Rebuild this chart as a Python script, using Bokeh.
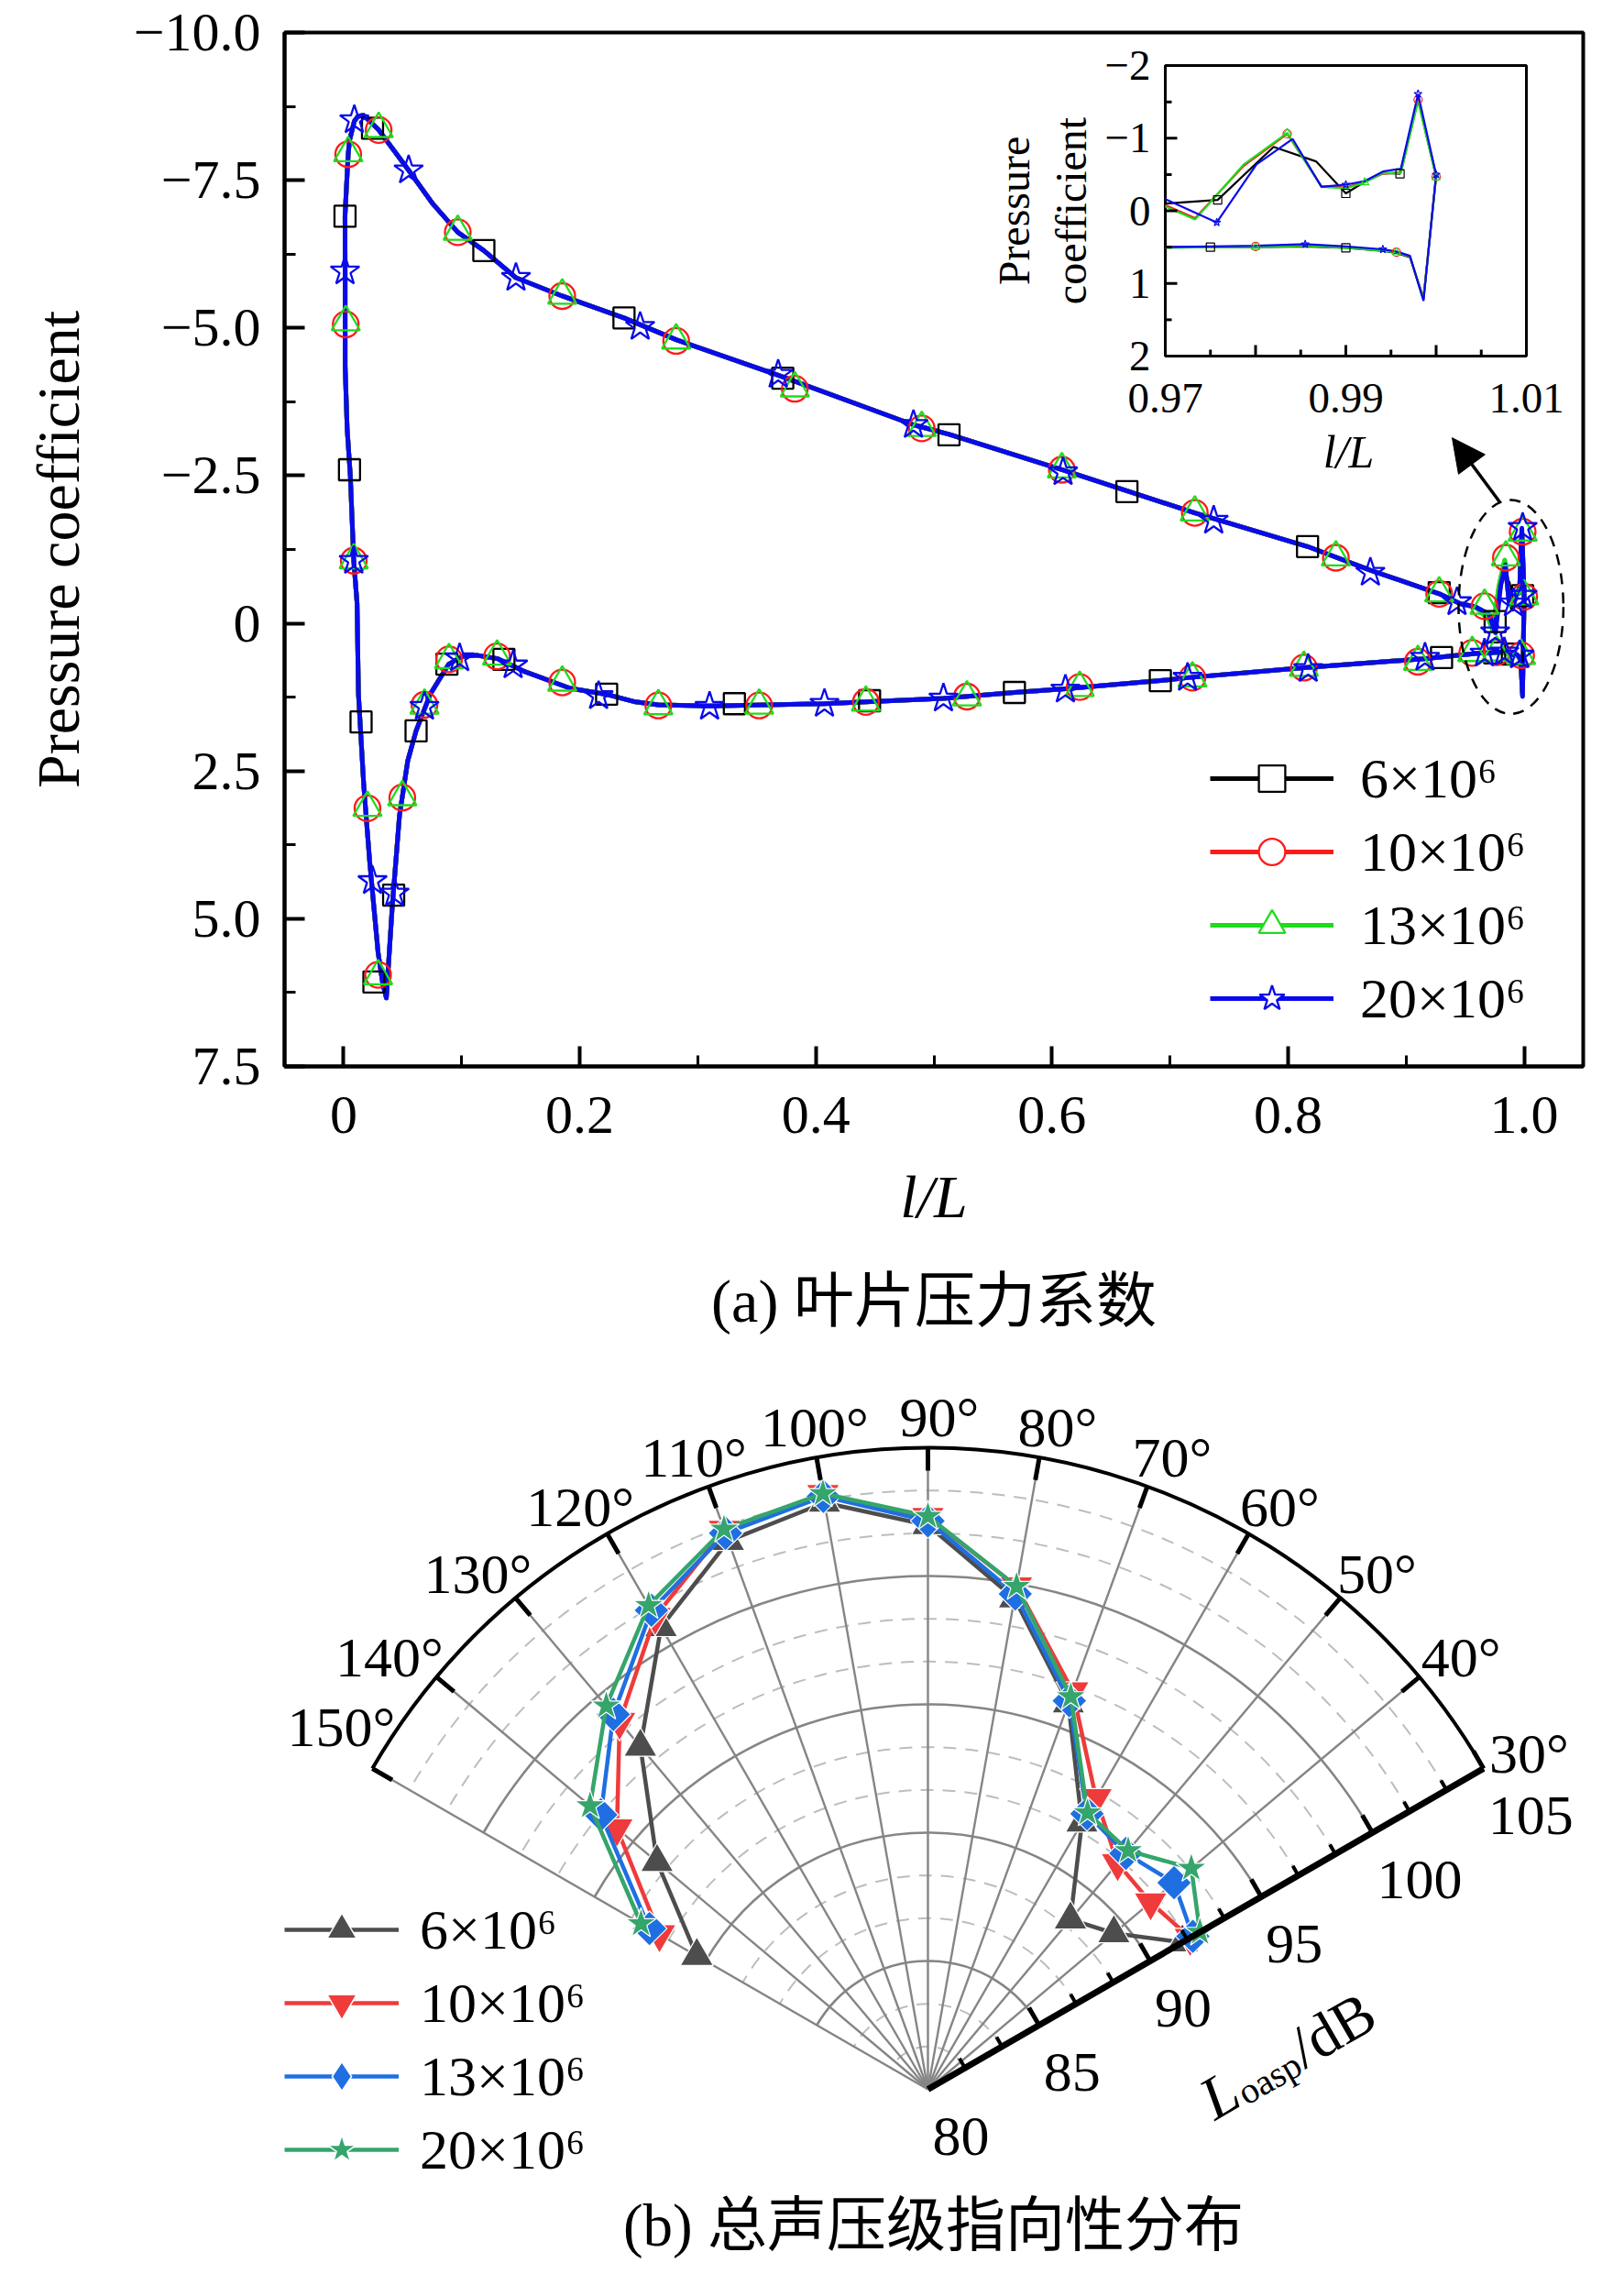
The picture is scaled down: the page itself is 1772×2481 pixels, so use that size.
import math
from bokeh.plotting import figure
from bokeh.models import (Range1d, FixedTicker, Legend, LegendItem, Arrow, NormalHead, Title)
from bokeh.layouts import column
from bokeh.embed import file_html
from bokeh.resources import INLINE
from bokeh.core.properties import value

SERIF = "Liberation Serif"
MIXED = "'Liberation Serif', 'Noto Sans CJK SC'"
NAN = float("nan")

# ====================== (a) blade pressure coefficient ======================
series_labels = ["6×10⁶", "10×10⁶", "13×10⁶", "20×10⁶"]

x_ticks = [0, 0.2, 0.4, 0.6, 0.8, 1.0]
x_tick_labels = ["0", "0.2", "0.4", "0.6", "0.8", "1.0"]
x_minor = [0.1, 0.3, 0.5, 0.7, 0.9]
y_ticks = [-10, -7.5, -5, -2.5, 0, 2.5, 5, 7.5]
y_tick_labels = ["−10.0", "−7.5", "−5.0", "−2.5", "0", "2.5", "5.0", "7.5"]
y_minor = [-8.75, -6.25, -3.75, -1.25, 1.25, 3.75, 6.25]

# common curve (the four Reynolds numbers practically coincide)
suction_x = [0.0168, 0.0294, 0.0551, 0.0756, 0.0967, 0.1188, 0.1460, 0.1852, 0.2375, 0.2817,
             0.3681, 0.4827, 0.5129, 0.6084, 0.6637, 0.7210, 0.8165, 0.8697, 0.9280, 0.9461, 0.9586]
suction_cp = [-8.60, -8.36, -7.67, -7.10, -6.62, -6.31, -5.85, -5.54, -5.17, -4.80,
              -4.20, -3.36, -3.20, -2.60, -2.24, -1.87, -1.30, -0.90, -0.50, -0.33, -0.28]
le_x = [0.0168, 0.0121, 0.0091, 0.0050, 0.0039, 0.0022, 0.0012, 0.0013, 0.0013, 0.0030,
        0.0057, 0.0086, 0.0114, 0.0126, 0.0171, 0.0221, 0.0292, 0.0332, 0.0362, 0.0412,
        0.0473, 0.0543, 0.0614, 0.0734, 0.0891, 0.1005, 0.1126, 0.1307, 0.1538, 0.1920,
        0.2222, 0.2473, 0.2666]
le_cp = [-8.60, -8.58, -8.50, -8.17, -7.94, -7.30, -6.89, -6.00, -4.35, -3.30,
         -2.50, -1.06, -0.34, 1.20, 2.75, 4.03, 5.57, 6.10, 6.34, 4.80,
         3.26, 2.33, 1.82, 1.20, 0.69, 0.56, 0.54, 0.60, 0.82, 1.10,
         1.20, 1.33, 1.38]
pressure_x = [0.3098, 0.4073, 0.5079, 0.5682, 0.6114, 0.6918, 0.7149, 0.8134, 0.9150, 0.9552, 0.9650]
pressure_cp = [1.40, 1.36, 1.27, 1.17, 1.11, 0.97, 0.92, 0.75, 0.60, 0.52, 0.50]

# trailing-edge detail (inset) per series
te_up_x_6 = [0.9700, 0.9758, 0.9820, 0.9867, 0.9900, 0.9921, 0.9941, 0.9960, 0.9980, 1.0000]
te_up_cp_6 = [-0.10, -0.15, -0.88, -0.68, -0.24, -0.40, -0.52, -0.51, -1.55, -0.48]
te_up_x_10 = [0.9700, 0.9733, 0.9787, 0.9835, 0.9873, 0.9900, 0.9921, 0.9941, 0.9961, 0.9980, 1.0000]
te_up_cp_10 = [-0.08, 0.10, -0.62, -1.06, -0.34, -0.32, -0.40, -0.51, -0.53, -1.53, -0.47]
te_up_x_13 = [0.9700, 0.9733, 0.9787, 0.9835, 0.9873, 0.9900, 0.9921, 0.9941, 0.9961, 0.9980, 1.0000]
te_up_cp_13 = [-0.06, 0.12, -0.64, -1.07, -0.33, -0.31, -0.39, -0.52, -0.52, -1.51, -0.46]
te_up_x_20 = [0.9700, 0.9757, 0.9801, 0.9841, 0.9873, 0.9900, 0.9921, 0.9941, 0.9961, 0.9980, 1.0000]
te_up_cp_20 = [-0.16, 0.16, -0.64, -0.99, -0.33, -0.36, -0.41, -0.54, -0.58, -1.61, -0.50]
te_lo_x = [0.9700, 0.9750, 0.9800, 0.9855, 0.9900, 0.9941, 0.9956, 0.9971, 0.9986]
te_lo_cp_6 = [0.50, 0.50, 0.50, 0.49, 0.51, 0.55, 0.58, 0.64, 1.20]
te_lo_cp_10 = [0.50, 0.50, 0.49, 0.48, 0.50, 0.54, 0.57, 0.63, 1.22]
te_lo_cp_13 = [0.51, 0.50, 0.50, 0.48, 0.51, 0.55, 0.57, 0.63, 1.22]
te_lo_cp_20 = [0.50, 0.49, 0.48, 0.46, 0.49, 0.53, 0.56, 0.62, 1.24]
# which inset points carry a symbol
inset_mk_up_6, inset_mk_lo_6 = [1, 4, 7], [1, 4]
inset_mk_up_10, inset_mk_lo_10 = [3, 9, 10], [2, 6]
inset_mk_up_13, inset_mk_lo_13 = [3, 6, 10], [2, 6]
inset_mk_up_20, inset_mk_lo_20 = [1, 5, 9, 10], [3, 5]

# symbols in the main chart
mk_x_6 = [0.0012, 0.0050, 0.0245, 0.1188, 0.2375, 0.3720, 0.5128, 0.6635, 0.8165, 0.9280, 0.9754, 0.9987,
          0.0148, 0.0257, 0.0424, 0.0614, 0.0875, 0.1358, 0.2228, 0.3310, 0.4455, 0.5682, 0.6918, 0.9300,
          0.9750, 0.9900]
mk_cp_6 = [-6.89, -2.60, -8.38, -6.31, -5.17, -4.15, -3.19, -2.23, -1.30, -0.52, -0.03, -0.47,
           1.67, 6.07, 4.60, 1.82, 0.69, 0.61, 1.20, 1.36, 1.31, 1.17, 0.97, 0.58,
           0.50, 0.52]
mk_x_10 = [0.0018, 0.0039, 0.0297, 0.0967, 0.1852, 0.2817, 0.3822, 0.4897, 0.6084, 0.7210, 0.8405, 0.9280,
           0.9664, 0.9845, 0.9987, 1.0000, 0.0086, 0.0202, 0.0292, 0.0497, 0.0685, 0.0893, 0.1300, 0.1852,
           0.2666, 0.3520, 0.4424, 0.5280, 0.6235, 0.7190, 0.8134, 0.9100, 0.9560, 0.9767, 0.9974]
mk_cp_10 = [-5.06, -7.94, -8.35, -6.62, -5.54, -4.78, -3.97, -3.30, -2.60, -1.87, -1.11, -0.50,
            -0.29, -1.11, -1.55, -0.45, -1.06, 3.13, 5.95, 2.95, 1.38, 0.61, 0.56, 1.00,
            1.39, 1.39, 1.33, 1.24, 1.08, 0.92, 0.75, 0.65, 0.50, 0.49, 0.54]
mk_x_13 = [0.0018, 0.0039, 0.0297, 0.0967, 0.1852, 0.2817, 0.3822, 0.4897, 0.6084, 0.7210, 0.8405, 0.9280,
           0.9664, 0.9845, 0.9987, 1.0000, 0.0086, 0.0202, 0.0292, 0.0497, 0.0685, 0.0893, 0.1300, 0.1852,
           0.2666, 0.3520, 0.4424, 0.5280, 0.6235, 0.7190, 0.8134, 0.9100, 0.9560, 0.9767, 0.9974]
mk_cp_13 = [-5.10, -7.96, -8.37, -6.63, -5.55, -4.79, -3.98, -3.31, -2.61, -1.88, -1.12, -0.51,
            -0.30, -1.12, -1.54, -0.46, -1.07, 3.12, 5.97, 2.94, 1.39, 0.62, 0.56, 1.00,
            1.40, 1.39, 1.34, 1.25, 1.09, 0.93, 0.75, 0.65, 0.50, 0.49, 0.55]
mk_x_20 = [0.0012, 0.0091, 0.0551, 0.1460, 0.2512, 0.3681, 0.4827, 0.6094, 0.7370, 0.8697, 0.9431, 0.9909,
           0.9987, 0.9987, 0.0086, 0.0245, 0.0432, 0.0685, 0.0983, 0.1436, 0.2160, 0.3100, 0.4073, 0.5081,
           0.6114, 0.7149, 0.8170, 0.9160, 0.9664, 0.9754, 0.9832, 0.9961]
mk_cp_20 = [-5.96, -8.52, -7.67, -5.85, -5.02, -4.21, -3.36, -2.56, -1.74, -0.86, -0.36, -0.34,
            -1.62, -0.47, -1.06, 4.36, 4.57, 1.41, 0.59, 0.71, 1.23, 1.41, 1.36, 1.27,
            1.12, 0.92, 0.77, 0.58, 0.51, 0.15, 0.49, 0.54]

inset_x_tick_pos = [0.97, 0.99, 1.01]
inset_x_tick_labels = ["0.97", "0.99", "1.01"]
inset_x_major = [0.98, 0.99, 1.00]
inset_x_minor = [0.975, 0.985, 0.995, 1.005]
inset_y_tick_pos = [-2, -1, 0, 1, 2]
inset_y_tick_labels = ["−2", "−1", "0", "1", "2"]
inset_y_major = [-1, 0, 1]
inset_y_minor = [-1.5, -0.5, 0.5, 1.5]

# ====================== (b) OASPL directivity ======================
polar_angles = [30, 40, 50, 60, 70, 80, 90, 100, 110, 120, 130, 140, 150]
oaspl_6 = [91.45, 89.46, 88.64, 92.00, 96.00, 99.42, 101.98, 103.21, 102.74, 100.80, 97.43, 93.78, 90.40]
oaspl_10 = [91.80, 91.33, 91.50, 93.10, 96.50, 99.90, 102.30, 103.55, 103.20, 101.26, 98.69, 95.82, 92.08]
oaspl_13 = [91.92, 92.52, 92.00, 92.40, 96.11, 99.60, 102.15, 103.46, 103.06, 101.55, 99.07, 96.64, 92.53]
oaspl_20 = [92.24, 93.40, 92.14, 92.44, 96.28, 99.90, 102.33, 103.57, 103.23, 101.77, 99.50, 97.19, 92.91]
r_ticks = [80, 85, 90, 95, 100, 105]
r_tick_labels = ["80", "85", "90", "95", "100", "105"]
angle_ticks = [30, 40, 50, 60, 70, 80, 90, 100, 110, 120, 130, 140, 150]
angle_tick_labels = ["30°", "40°", "50°", "60°", "70°", "80°", "90°", "100°", "110°", "120°",
                     "130°", "140°", "150°"]

# ====================== layout constants (screen px of reference) ======================
PAGE_W = 1764
FRAME_L, FRAME_T, FRAME_R, FRAME_B = 318, 43, 1735, 1171
TOP_H = 1495
INSET_L, INSET_T, INSET_R, INSET_B = 1279, 79, 1673, 396
BORDER_L = FRAME_L - 8
FW, FH = FRAME_R - FRAME_L, FRAME_B - FRAME_T
BORDER_R = PAGE_W - BORDER_L - FW

# ---------------------------------------------------------------------------
p = figure(frame_width=FW, frame_height=FH,
           x_range=Range1d(-0.05, 1.05), y_range=Range1d(7.5, -10),
           min_border_left=BORDER_L, min_border_top=FRAME_T - 8,
           min_border_right=BORDER_R,
           min_border_bottom=TOP_H - (FRAME_T - 8) - FH,
           output_backend="svg", toolbar_location=None)
p.xgrid.visible = False
p.ygrid.visible = False
p.outline_line_color = "black"
p.outline_line_width = 4
p.background_fill_color = "white"
p.border_fill_color = "white"

p.xaxis.ticker = FixedTicker(ticks=x_ticks, minor_ticks=x_minor)
p.xaxis.major_label_overrides = {t: l for t, l in zip(x_ticks, x_tick_labels)}
p.yaxis.ticker = FixedTicker(ticks=y_ticks, minor_ticks=y_minor)
p.yaxis.major_label_overrides = {t: l for t, l in zip(y_ticks, y_tick_labels)}
for ax in (p.xaxis[0], p.yaxis[0]):
    ax.axis_line_width = 4
    ax.major_tick_line_width = 4
    ax.minor_tick_line_width = 3
    ax.major_tick_in = 22
    ax.major_tick_out = 0
    ax.minor_tick_in = 12
    ax.minor_tick_out = 0
    ax.major_label_text_font = SERIF
    ax.major_label_text_font_size = "60px"
    ax.major_label_text_color = "black"
    ax.axis_label_text_font = SERIF
    ax.axis_label_text_font_size = "66px"
    ax.axis_label_text_color = "black"
p.xaxis.axis_label = "l/L"
p.xaxis.axis_label_text_font_style = "italic"
p.xaxis.major_label_standoff = 33
p.xaxis.axis_label_standoff = 30
p.yaxis.axis_label = "Pressure coefficient"
p.yaxis.axis_label_text_font_style = "normal"
p.yaxis.major_label_standoff = 26
p.yaxis.axis_label_standoff = 43

colors_a = ["#000000", "#ff1a1a", "#1edc1e", "#0a0aeb"]
markers_a = ["square", "circle", "triangle", "star"]
sizes_a = [23, 28, 31, 33]
te_up_x_all = [te_up_x_6, te_up_x_10, te_up_x_13, te_up_x_20]
te_up_cp_all = [te_up_cp_6, te_up_cp_10, te_up_cp_13, te_up_cp_20]
te_lo_cp_all = [te_lo_cp_6, te_lo_cp_10, te_lo_cp_13, te_lo_cp_20]
mk_x_all = [mk_x_6, mk_x_10, mk_x_13, mk_x_20]
mk_cp_all = [mk_cp_6, mk_cp_10, mk_cp_13, mk_cp_20]
inset_mk_up_all = [inset_mk_up_6, inset_mk_up_10, inset_mk_up_13, inset_mk_up_20]
inset_mk_lo_all = [inset_mk_lo_6, inset_mk_lo_10, inset_mk_lo_13, inset_mk_lo_20]

legend_items_a = []
line_rs = []
for i in range(4):
    ux, uc, lc = te_up_x_all[i], te_up_cp_all[i], te_lo_cp_all[i]
    xs = ux[::-1] + suction_x[::-1] + le_x[1:] + pressure_x + te_lo_x + [ux[-1]]
    ys = uc[::-1] + suction_cp[::-1] + le_cp[1:] + pressure_cp + lc + [uc[-1]]
    lr = p.line(xs, ys, line_color=colors_a[i], line_width=5, line_join="round")
    line_rs.append(lr)
for i in range(4):
    p.scatter(mk_x_all[i], mk_cp_all[i], marker=markers_a[i], size=sizes_a[i],
              fill_color=None, line_color=colors_a[i], line_width=2.3)
    # legend proxy (white-filled symbol breaking the line, as in the original key)
    proxy = p.scatter([NAN], [NAN], marker=markers_a[i], size=sizes_a[i],
                      fill_color="white", line_color=colors_a[i], line_width=2.3)
    legend_items_a.append(LegendItem(label=series_labels[i], renderers=[line_rs[i], proxy]))

# dashed ellipse around trailing edge & arrow to inset
p.ellipse(x=[0.9888], y=[-0.277], width=[0.0888], height=[3.62], fill_color=None,
          line_color="black", line_width=2.5, line_dash="12 9")
p.add_layout(Arrow(end=NormalHead(size=36, fill_color="black", line_color="black"),
                   x_start=0.979, y_start=-2.06, x_end=0.939, y_end=-3.14,
                   line_width=3.5, line_color="black"))

# ---------- inset (own ranges mapped into the inset box) ----------
ixpp = 0.04 / (INSET_R - INSET_L)
iypp = 4.0 / (INSET_B - INSET_T)
p.extra_x_ranges = {"ix": Range1d(0.97 - (INSET_L - FRAME_L) * ixpp, 1.01 + (FRAME_R - INSET_R) * ixpp)}
p.extra_y_ranges = {"iy": Range1d(2 + (FRAME_B - INSET_B) * iypp, -2 - (INSET_T - FRAME_T) * iypp)}
IN = dict(x_range_name="ix", y_range_name="iy")
p.quad(left=[0.97], right=[1.01], top=[-2], bottom=[2], fill_color="white",
       line_color="black", line_width=3, **IN)
for i in range(4):
    ux, uc, lc = te_up_x_all[i], te_up_cp_all[i], te_lo_cp_all[i]
    p.line(ux, uc, line_color=colors_a[i], line_width=2.2, **IN)
    p.line(te_lo_x + [ux[-1]], lc + [uc[-1]], line_color=colors_a[i], line_width=2.2, **IN)
for i in range(4):
    ux, uc, lc = te_up_x_all[i], te_up_cp_all[i], te_lo_cp_all[i]
    mx = [ux[k] for k in inset_mk_up_all[i]] + [te_lo_x[k] for k in inset_mk_lo_all[i]]
    my = [uc[k] for k in inset_mk_up_all[i]] + [lc[k] for k in inset_mk_lo_all[i]]
    p.scatter(mx, my, marker=markers_a[i], size=9, fill_color=None,
              line_color=colors_a[i], line_width=1.2, **IN)
# inset ticks
p.segment(x0=inset_x_major, y0=[2] * 3, x1=inset_x_major, y1=[2 - 12 * iypp] * 3,
          line_color="black", line_width=3, **IN)
p.segment(x0=inset_x_minor, y0=[2] * 4, x1=inset_x_minor, y1=[2 - 7 * iypp] * 4,
          line_color="black", line_width=3, **IN)
p.segment(x0=[0.97] * 3, y0=inset_y_major, x1=[0.97 + 13 * ixpp] * 3, y1=inset_y_major,
          line_color="black", line_width=3, **IN)
p.segment(x0=[0.97] * 4, y0=inset_y_minor, x1=[0.97 + 7 * ixpp] * 4, y1=inset_y_minor,
          line_color="black", line_width=3, **IN)
p.text(x=inset_x_tick_pos, y=[2 + 46 * iypp] * 3, text=inset_x_tick_labels,
       text_font=value(SERIF), text_font_size="47px", text_align="center",
       text_baseline="middle", text_color="black", **IN)
p.text(x=[0.97 - 16 * ixpp] * 5, y=inset_y_tick_pos, text=inset_y_tick_labels,
       text_font=value(SERIF), text_font_size="47px", text_align="right",
       text_baseline="middle", text_color="black", **IN)
p.text(x=[0.97 + (1479 - INSET_L) * ixpp], y=[2 + (500 - INSET_B) * iypp], text=["l/L"],
       text_font=value(SERIF), text_font_size="50px", text_font_style="italic",
       text_align="center", text_baseline="middle", text_color="black", **IN)
p.text(x=[0.97 - (INSET_L - 1114) * ixpp, 0.97 - (INSET_L - 1176) * ixpp], y=[0, 0],
       text=["Pressure", "coefficient"], angle=math.pi / 2,
       text_font=value(SERIF), text_font_size="48px", text_align="center",
       text_baseline="middle", text_color="black", **IN)

leg_a = Legend(items=legend_items_a, location=(1328 - FRAME_L, FRAME_B - 1133),
               glyph_width=135, glyph_height=72, label_height=72, label_standoff=29,
               spacing=8, padding=0, margin=0, border_line_color=None,
               background_fill_alpha=0, label_text_font=SERIF,
               label_text_font_size="62px", label_text_color="black")
p.add_layout(leg_a)

cap_a = Title(text="(a) 叶片压力系数", align="center", text_font=MIXED,
              text_font_size="66px", text_font_style="normal", text_color="black", standoff=72)
p.add_layout(cap_a, "below")

# ====================== (b) polar chart ======================
PX = 28.0          # px per dB
R0, RMAX = 80, 105
CX, CY = 1020, 2287   # screen position of pole
BOT_TOP = 8 + TOP_H
BOT_H = 2473 - BOT_TOP
q = figure(frame_width=FW, frame_height=BOT_H,
           x_range=Range1d(-(CX - FRAME_L) / PX, (FRAME_R - CX) / PX),
           y_range=Range1d(-(BOT_TOP + BOT_H - CY) / PX, (CY - BOT_TOP) / PX),
           min_border_left=BORDER_L, min_border_right=BORDER_R,
           min_border_top=0, min_border_bottom=0,
           x_axis_location=None, y_axis_location=None,
           output_backend="svg", toolbar_location=None)
q.xgrid.visible = False
q.ygrid.visible = False
q.outline_line_color = None
q.background_fill_color = "white"
q.border_fill_color = "white"

RR = RMAX - R0
A0, A1 = math.radians(30), math.radians(150)
minor_r = [k * 5 / 3 for k in range(1, 15) if k % 3 != 0]
major_r = [t - R0 for t in r_ticks[1:-1]]
q.arc(x=[0] * len(minor_r), y=[0] * len(minor_r), radius=minor_r, start_angle=A0, end_angle=A1,
      line_color="#bdbdbd", line_width=2, line_dash="14 10")
q.arc(x=[0] * len(major_r), y=[0] * len(major_r), radius=major_r, start_angle=A0, end_angle=A1,
      line_color="#858585", line_width=2.6)
spoke_a = [math.radians(a) for a in angle_ticks[1:]]
q.segment(x0=[0] * len(spoke_a), y0=[0] * len(spoke_a),
          x1=[RR * math.cos(a) for a in spoke_a], y1=[RR * math.sin(a) for a in spoke_a],
          line_color="#858585", line_width=2.4)

colors_b = ["#4d4d4d", "#ef3b3b", "#1f6fe2", "#35a56b"]
markers_b = ["triangle", "inverted_triangle", "square", "star"]
legend_markers_b = ["triangle", "inverted_triangle", "diamond", "star"]
sizes_b = [36, 36, 27, 35]
angles_b = [0, 0, math.pi / 4, 0]
oaspl_all = [oaspl_6, oaspl_10, oaspl_13, oaspl_20]
legend_items_b = []
for i in range(4):
    xs = [(L - R0) * math.cos(math.radians(a)) for L, a in zip(oaspl_all[i], polar_angles)]
    ys = [(L - R0) * math.sin(math.radians(a)) for L, a in zip(oaspl_all[i], polar_angles)]
    lr = q.line(xs, ys, line_color=colors_b[i], line_width=4.5)
    q.scatter(xs, ys, marker=markers_b[i], size=sizes_b[i], angle=angles_b[i],
              fill_color=colors_b[i], line_color="white", line_width=1.2)
    proxy = q.scatter([NAN], [NAN], marker=legend_markers_b[i], size=sizes_b[i],
                      fill_color=colors_b[i], line_color="white", line_width=1.5)
    legend_items_b.append(LegendItem(label=series_labels[i], renderers=[lr, proxy]))

# outer angular axis with ticks
q.arc(x=[0], y=[0], radius=[RR], start_angle=A0, end_angle=A1, line_color="black", line_width=4)
tick_a = [math.radians(a) for a in angle_ticks]
TL = 25 / PX
q.segment(x0=[(RR - TL) * math.cos(a) for a in tick_a], y0=[(RR - TL) * math.sin(a) for a in tick_a],
          x1=[RR * math.cos(a) for a in tick_a], y1=[RR * math.sin(a) for a in tick_a],
          line_color="black", line_width=5)
# radial axis along 30 deg
c30, s30 = math.cos(A0), math.sin(A0)
px_, py_ = math.cos(math.radians(120)), math.sin(math.radians(120))
q.segment(x0=[0], y0=[0], x1=[RR * c30], y1=[RR * s30], line_color="black", line_width=7)
rmaj = [t - R0 for t in r_ticks[1:]]
rmin = minor_r
q.segment(x0=[r * c30 for r in rmaj], y0=[r * s30 for r in rmaj],
          x1=[r * c30 + 22 / PX * px_ for r in rmaj], y1=[r * s30 + 22 / PX * py_ for r in rmaj],
          line_color="black", line_width=5)
q.segment(x0=[r * c30 for r in rmin], y0=[r * s30 for r in rmin],
          x1=[r * c30 + 12 / PX * px_ for r in rmin], y1=[r * s30 + 12 / PX * py_ for r in rmin],
          line_color="black", line_width=4)
# radial tick labels
q.text(x=[(t - R0) * c30 + 5 / PX for t in r_ticks], y=[(t - R0) * s30 - 51 / PX for t in r_ticks],
       text=r_tick_labels, text_font=value(SERIF), text_font_size="62px",
       text_align="left", text_baseline="middle", text_color="black")
# angular tick labels (kept inside the drawing area)
FS = 62
lx, ly = [], []
for a, lab in zip(angle_ticks, angle_tick_labels):
    t = math.radians(a)
    ux, uy = math.cos(t), math.sin(t)
    w = ((len(lab) - 1) * 0.5 + 0.4) * FS
    h = 0.70 * FS
    cxp = 712 * ux + 0.5 * w * ux + 0.2 * FS * (1 - abs(ux))
    cyp = 712 * uy + 0.5 * h * uy
    lim = (FRAME_L - CX) + 0.5 * w + 3
    if cxp < lim:
        cyp += (lim - cxp) * 1.1
        cxp = lim
    lx.append(cxp / PX)
    ly.append(cyp / PX)
q.text(x=lx, y=ly, text=angle_tick_labels, text_font=value(SERIF), text_font_size="62px",
       text_align="center", text_baseline="middle", text_color="black")
# radial axis title  L_oasp/dB  (rotated with the axis)
dx, dy = c30, s30
nx, ny = s30, -c30
sx0 = 254 * dx + 164 * nx
sy0 = 254 * dy + 164 * ny
rot = A0
q.text(x=[sx0 / PX], y=[sy0 / PX], text=["L"], angle=rot, text_font=value(SERIF),
       text_font_size="66px", text_font_style="italic", text_align="left",
       text_baseline="alphabetic", text_color="black")
q.text(x=[(sx0 + 38 * dx + 12 * nx) / PX], y=[(sy0 + 38 * dy + 12 * ny) / PX], text=["oasp"],
       angle=rot, text_font=value(SERIF), text_font_size="40px", text_align="left",
       text_baseline="alphabetic", text_color="black")
q.text(x=[(sx0 + 113 * dx) / PX], y=[(sy0 + 113 * dy) / PX], text=["/dB"], angle=rot,
       text_font=value(SERIF), text_font_size="66px", text_align="left",
       text_baseline="alphabetic", text_color="black")
# caption (b) — kept fully inside the page
q.text(x=[(1026 - CX) / PX], y=[(CY - 2435) / PX], text=["(b) 总声压级指向性分布"],
       text_font=value(MIXED), text_font_size="65px", text_align="center",
       text_baseline="middle", text_color="black")

leg_b = Legend(items=legend_items_b, location=(0, (BOT_TOP + BOT_H) - 2393),
               glyph_width=125, glyph_height=80, label_height=80, label_standoff=23,
               spacing=0, padding=0, margin=0, border_line_color=None,
               background_fill_alpha=0, label_text_font=SERIF,
               label_text_font_size="62px", label_text_color="black")
q.add_layout(leg_b)

layout = column(p, q)
open("out.html", "w").write(file_html(layout, INLINE))
